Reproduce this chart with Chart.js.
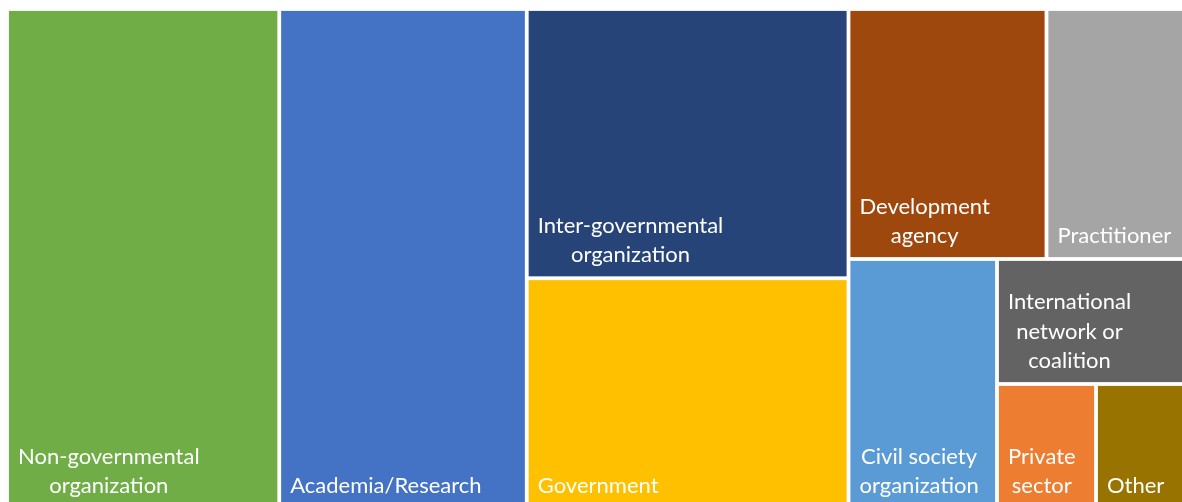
<!DOCTYPE html>
<html>
<head>
<meta charset="utf-8">
<script src="https://cdn.jsdelivr.net/npm/chart.js@4"></script>
<style>
  html, body { margin: 0; padding: 0; background: #fff; overflow: hidden; }
  canvas { display: block; }
</style>
</head>
<body>
<canvas id="treemap" width="1200" height="520"></canvas>
<script>
// respondent types (label lines as shown in the cells)
const categories = [
  ['Non-governmental', 'organization'],
  ['Academia/Research'],
  ['Inter-governmental', 'organization'],
  ['Government'],
  ['Development', 'agency'],
  ['Practitioner'],
  ['Civil society', 'organization'],
  ['International', 'network or', 'coalition'],
  ['Private', 'sector'],
  ['Other']
];
const counts = [11, 10, 7, 6, 4, 3, 3, 2, 1, 1];
const colors = ['#70AD47', '#4472C4', '#264478', '#FFC000', '#9E480E',
                '#A5A5A5', '#5B9BD5', '#636363', '#ED7D31', '#997300'];

const W = 1188, H = 500;   // value space of the x / y scales

// squarified treemap layout in scale units
function squarify(values, w, h) {
  const total = values.reduce((a, b) => a + b, 0);
  let items = values.map((v, i) => ({ i, a: v * w * h / total }));
  let rx = 0, ry = 0, rw = w, rh = h;
  const out = [];
  let row = [];

  function worst(r, side) {
    const s = r.reduce((t, d) => t + d.a, 0);
    const mx = Math.max(...r.map(d => d.a));
    const mn = Math.min(...r.map(d => d.a));
    return Math.max(side * side * mx / (s * s), (s * s) / (side * side * mn));
  }

  function place(r) {
    const s = r.reduce((t, d) => t + d.a, 0);
    if (rw >= rh) {
      const cw = s / rh;
      let yy = ry;
      r.forEach(d => {
        const hh = d.a / cw;
        out[d.i] = { x0: rx, x1: rx + cw, y0: yy, y1: yy + hh };
        yy += hh;
      });
      rx += cw; rw -= cw;
    } else {
      const ch = s / rw;
      let xx = rx;
      r.forEach(d => {
        const ww = d.a / ch;
        out[d.i] = { x0: xx, x1: xx + ww, y0: ry, y1: ry + ch };
        xx += ww;
      });
      ry += ch; rh -= ch;
    }
  }

  while (items.length) {
    const side = Math.min(rw, rh);
    const next = items[0];
    if (row.length === 0 || worst(row.concat([next]), side) <= worst(row, side)) {
      row.push(next);
      items.shift();
    } else {
      place(row);
      row = [];
    }
  }
  if (row.length) place(row);
  return out;
}

const cells = squarify(counts, W, H);

const treemapPlugin = {
  id: 'treemapCells',
  afterDatasetsDraw(chart) {
    const ctx = chart.ctx;
    const xs = chart.scales.x, ys = chart.scales.y;
    const gap = 1.9;
    ctx.save();
    cells.forEach((c, i) => {
      const left = xs.getPixelForValue(c.x0);
      const right = xs.getPixelForValue(c.x1);
      const top = ys.getPixelForValue(c.y0);
      const bottom = ys.getPixelForValue(c.y1);
      ctx.fillStyle = colors[i];
      ctx.fillRect(left + gap, top + gap, right - left - 2 * gap, bottom - top - 2 * gap);

      // label: lines centred on each other, block at bottom-left
      ctx.font = '22px Lato';
      ctx.fillStyle = '#ffffff';
      ctx.textBaseline = 'alphabetic';
      ctx.textAlign = 'center';
      const lines = categories[i];
      const bw = Math.max(...lines.map(l => ctx.measureText(l).width));
      const cx = left + 11 + bw / 2;
      const lineH = 29.5;
      lines.forEach((l, k) => {
        const y = bottom - 16 - (lines.length - 1 - k) * lineH;
        ctx.fillText(l, cx, y);
      });
    });
    ctx.restore();
  }
};

new Chart(document.getElementById('treemap'), {
  type: 'scatter',
  data: {
    datasets: [{
      label: 'Respondents',
      data: cells.map((c, i) => ({ x: (c.x0 + c.x1) / 2, y: (c.y0 + c.y1) / 2, v: counts[i] })),
      pointRadius: 0
    }]
  },
  options: {
    responsive: false,
    animation: false,
    layout: { padding: { left: 7, top: 9, right: 5, bottom: 11 } },
    plugins: {
      legend: { display: false },
      tooltip: { enabled: false }
    },
    scales: {
      x: { type: 'linear', min: 0, max: W, display: false },
      y: { type: 'linear', min: 0, max: H, reverse: true, display: false }
    }
  },
  plugins: [treemapPlugin]
});
</script>
</body>
</html>
